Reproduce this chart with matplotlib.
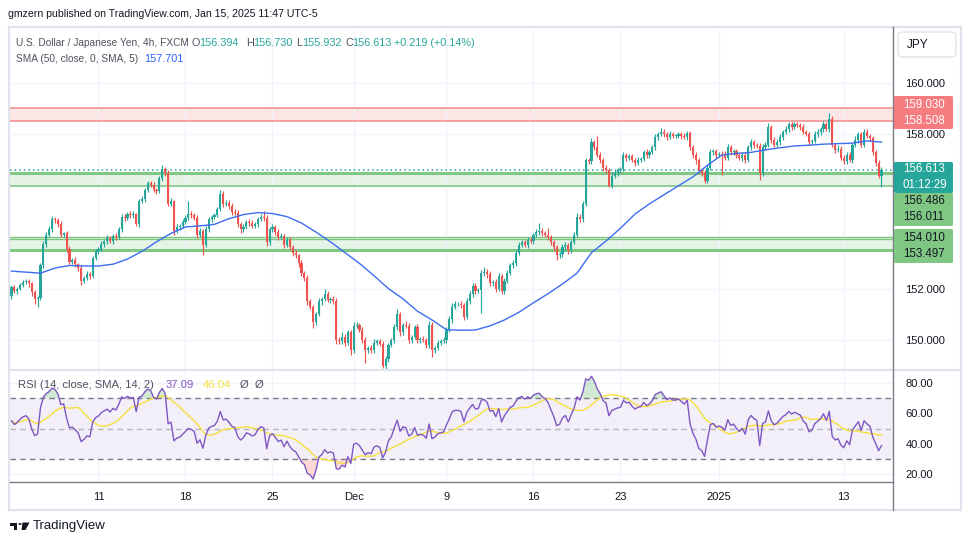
import matplotlib
matplotlib.use("Agg")
import matplotlib.pyplot as plt
from matplotlib.patches import FancyBboxPatch, Polygon, Circle
from matplotlib.lines import Line2D
import numpy as np
import pandas as pd

plt.rcParams['font.family'] = ['Liberation Sans', 'DejaVu Sans']

W, H = 970, 545

# USD/JPY 4h (FXCM), one value per bar
first_open = 151.70
closes = [
    152.05, 151.90, 152.00, 152.15, 152.25, 152.30, 152.20, 151.85, 151.60, 151.65,
    152.90, 153.75, 154.10, 154.30, 154.70, 154.65, 154.50, 154.10, 154.15, 153.55,
    153.05, 153.10, 152.95, 152.80, 152.30, 152.40, 152.55, 152.50, 153.20, 153.45,
    153.55, 153.75, 153.85, 153.95, 153.85, 154.05, 154.00, 154.30, 154.80, 154.75,
    154.90, 154.85, 154.90, 154.50, 155.40, 155.50, 155.85, 156.10, 156.05, 155.85,
    155.80, 156.30, 156.65, 156.50, 155.30, 155.40, 154.25, 154.40, 154.45, 154.60,
    154.75, 154.90, 154.85, 154.75, 154.10, 154.25, 153.70, 154.30, 154.70, 154.80,
    154.85, 155.10, 155.70, 155.30, 155.35, 155.20, 155.00, 154.95, 154.50, 154.30,
    154.40, 154.60, 154.55, 154.45, 154.50, 154.70, 154.80, 154.75, 153.80, 154.30,
    154.40, 154.20, 154.00, 154.05, 153.70, 153.90, 153.60, 153.40, 153.30, 153.00,
    152.60, 152.40, 151.50, 151.30, 150.70, 151.00, 151.50, 151.60, 151.80, 151.55,
    151.60, 151.50, 150.00, 149.95, 150.10, 149.90, 150.30, 149.60, 150.55, 150.60,
    150.40, 150.00, 149.60, 149.70, 149.60, 149.90, 149.95, 149.85, 149.00, 149.25,
    149.80, 150.00, 150.50, 151.00, 150.30, 150.60, 150.55, 150.00, 150.10, 150.50,
    150.00, 150.05, 150.00, 149.80, 150.60, 149.60, 149.70, 149.90, 149.95, 150.00,
    150.40, 150.80, 151.30, 151.40, 151.40, 151.35, 150.90, 151.50, 151.80, 152.10,
    151.90, 151.95, 152.60, 152.65, 152.55, 152.20, 152.25, 152.00, 152.50, 151.90,
    152.30, 152.60, 152.90, 153.00, 153.40, 153.70, 153.80, 153.70, 153.90, 153.85,
    154.10, 154.20, 154.25, 154.15, 154.10, 154.00, 153.80, 153.60, 153.30, 153.35,
    153.60, 153.70, 153.50, 153.80, 154.10, 154.80, 154.70, 155.30, 157.00, 156.95,
    157.70, 157.50, 157.20, 157.00, 156.70, 156.60, 156.00, 156.40, 156.50, 156.60,
    156.65, 157.20, 157.10, 157.15, 157.00, 156.90, 157.00, 157.05, 157.30, 157.20,
    157.30, 157.50, 157.90, 158.00, 158.10, 158.00, 157.90, 158.00, 157.95, 157.95,
    158.00, 157.95, 157.90, 158.05, 157.50, 157.20, 157.00, 156.60, 156.50, 156.20,
    156.70, 157.30, 157.35, 157.20, 157.25, 157.20, 157.10, 157.50, 157.30, 157.35,
    157.20, 157.10, 157.20, 157.00, 157.50, 157.70, 157.60, 157.55, 156.50, 157.50,
    157.60, 158.30, 157.80, 157.60, 157.70, 157.90, 158.10, 158.20, 158.40, 158.30,
    158.40, 158.35, 158.30, 158.10, 158.00, 157.70, 157.75, 158.00, 158.10, 158.20,
    158.40, 158.20, 158.60, 157.60, 157.40, 157.45, 157.10, 156.95, 157.20, 157.00,
    157.60, 157.80, 158.00, 157.60, 158.10, 157.95, 157.85, 157.30, 156.90, 156.394,
    156.613,
]
# wick length above / below the body, hundredths of a yen
wick_up = [
    8, 10, 6, 8, 10, 6, 8, 5, 8, 6,
    10, 12, 10, 15, 12, 10, 8, 12, 6, 8,
    10, 8, 12, 6, 10, 8, 15, 10, 8, 10,
    8, 10, 6, 12, 10, 8, 10, 8, 12, 10,
    8, 12, 10, 6, 10, 12, 8, 10, 8, 10,
    8, 10, 15, 8, 10, 12, 6, 10, 8, 10,
    12, 50, 10, 8, 10, 12, 8, 15, 10, 8,
    10, 8, 15, 10, 8, 10, 12, 8, 10, 8,
    10, 8, 12, 10, 8, 10, 12, 20, 10, 8,
    10, 8, 12, 10, 8, 12, 10, 8, 10, 6,
    10, 8, 12, 10, 8, 10, 12, 8, 20, 10,
    8, 10, 12, 10, 20, 12, 8, 10, 15, 10,
    8, 10, 12, 8, 10, 12, 10, 8, 10, 12,
    10, 8, 12, 20, 10, 8, 12, 10, 8, 10,
    12, 8, 10, 8, 15, 10, 8, 10, 8, 12,
    10, 12, 15, 10, 8, 12, 10, 15, 10, 12,
    10, 8, 12, 20, 10, 15, 8, 12, 10, 8,
    10, 12, 8, 10, 12, 10, 8, 10, 12, 10,
    8, 12, 30, 10, 8, 25, 10, 8, 10, 8,
    12, 10, 8, 10, 12, 15, 10, 12, 10, 8,
    15, 10, 44, 10, 8, 10, 8, 12, 10, 8,
    10, 12, 8, 10, 8, 10, 12, 8, 10, 12,
    10, 8, 12, 10, 15, 10, 8, 12, 10, 8,
    10, 8, 12, 10, 8, 10, 12, 8, 10, 12,
    10, 12, 8, 10, 8, 10, 15, 12, 10, 8,
    10, 8, 12, 10, 8, 12, 10, 8, 10, 12,
    10, 14, 8, 10, 12, 10, 8, 12, 10, 8,
    10, 8, 10, 12, 8, 10, 8, 12, 10, 8,
    12, 8, 23, 10, 8, 12, 10, 8, 12, 10,
    8, 12, 10, 8, 12, 10, 8, 10, 8, 10,
    12,
]
wick_dn = [
    10, 8, 12, 6, 10, 8, 12, 15, 20, 30,
    10, 8, 12, 10, 8, 10, 12, 8, 10, 12,
    10, 8, 12, 10, 15, 10, 8, 12, 10, 8,
    10, 8, 12, 10, 8, 10, 12, 8, 10, 12,
    8, 10, 12, 8, 10, 8, 12, 10, 8, 10,
    10, 8, 10, 12, 10, 8, 15, 10, 12, 8,
    10, 8, 12, 10, 15, 10, 40, 10, 8, 12,
    10, 8, 10, 12, 8, 10, 12, 8, 10, 15,
    10, 8, 12, 10, 8, 10, 8, 12, 15, 10,
    8, 12, 10, 8, 12, 10, 8, 12, 10, 15,
    12, 10, 15, 10, 25, 10, 8, 12, 10, 8,
    10, 8, 15, 12, 10, 15, 10, 20, 10, 8,
    10, 12, 50, 10, 12, 10, 8, 10, 10, 12,
    10, 8, 12, 10, 15, 10, 8, 12, 10, 8,
    10, 12, 8, 10, 12, 25, 10, 8, 10, 8,
    10, 8, 12, 10, 8, 10, 12, 8, 10, 12,
    10, 8, 90, 10, 12, 8, 10, 12, 8, 10,
    12, 10, 8, 10, 12, 10, 8, 10, 12, 8,
    10, 8, 12, 10, 8, 12, 10, 15, 20, 10,
    12, 10, 15, 10, 8, 10, 12, 10, 8, 12,
    10, 12, 8, 10, 12, 10, 5, 10, 8, 10,
    10, 8, 12, 10, 8, 12, 10, 8, 10, 12,
    10, 8, 12, 10, 8, 10, 12, 8, 10, 8,
    10, 12, 8, 10, 12, 10, 15, 12, 10, 10,
    10, 8, 12, 10, 8, 78, 10, 8, 12, 10,
    10, 8, 12, 10, 8, 10, 12, 8, 27, 10,
    10, 8, 12, 10, 8, 10, 12, 8, 10, 12,
    10, 8, 12, 10, 8, 12, 10, 8, 10, 12,
    10, 8, 12, 10, 12, 8, 10, 12, 10, 8,
    10, 8, 12, 10, 8, 10, 12, 10, 12, 10,
    46,
]

# SMA(50) line as drawn on the chart, sampled every 5 bars
sma_bars = list(range(0, 301, 5))
sma_vals = [
    152.68, 152.64, 152.60, 152.80, 152.90, 152.88, 152.88, 152.95, 153.15, 153.45,
    153.82, 154.15, 154.40, 154.44, 154.50, 154.72, 154.88, 154.96, 154.92, 154.80,
    154.55, 154.20, 153.82, 153.40, 152.98, 152.50, 152.00, 151.60, 151.12, 150.78,
    150.40, 150.38, 150.39, 150.55, 150.78, 151.08, 151.45, 151.80, 152.18, 152.60,
    153.40, 153.85, 154.35, 154.90, 155.30, 155.65, 156.00, 156.35, 156.80, 157.20,
    157.26, 157.30, 157.40, 157.48, 157.55, 157.58, 157.62, 157.64, 157.66, 157.75,
    157.70,
]

tick_bars = [30, 60, 90, 118, 150, 180, 210, 244, 287]
tick_labels = ["11", "18", "25", "Dec", "9", "16", "23", "2025", "13"]

price_ticks = [150, 152, 154, 156, 158, 160]
# 154 and 156 sit behind the zone tags on the reference
price_tick_labels = ['150.000', '152.000', '', '', '158.000', '160.000']

red_zone = (158.508, 159.030)
green_zone_hi = (156.011, 156.486)
green_zone_lo = (153.497, 154.010)
green_zone_lo_inner = 153.92
last_price = 156.613

UP, DOWN = '#26A69A', '#EF5350'
TXT = '#131722'
GREY = '#50535E'
GRID = '#F0F3FA'
BORDER = '#E0E3EB'


def fx(x):
    return x / W


def fy(y):
    return 1 - y / H


def bar_x(px):
    # bar i is centred at 11.5 + 2.9 * i pixels
    return (px - 11.5) / 2.9


def price_at(py):
    return 160 - (py - 83) / 25.7


def rsi_at(py):
    return 80 - (py - 383) * 60 / 91


fig = plt.figure(figsize=(W / 100, H / 100), dpi=100)
fig.patch.set_facecolor('white')

ax = fig.add_axes([fx(10), fy(369), fx(893) - fx(10), fy(30) - fy(369)])
ax2 = fig.add_axes([fx(10), fy(482), fx(893) - fx(10), fy(370) - fy(482)])

n = len(closes)
idx = np.arange(n)
c = np.array(closes)
o = np.concatenate([[first_open], c[:-1]])
hi = np.maximum(o, c) + np.array(wick_up) / 100
lo = np.minimum(o, c) - np.array(wick_dn) / 100
cols = [UP if cc >= oo else DOWN for oo, cc in zip(o, c)]

# zones
ax.axhspan(*red_zone, color='#FDE6E6', zorder=0, lw=0)
ax.axhline(red_zone[0], color='#F28A8A', lw=1.1, zorder=1)
ax.axhline(red_zone[1], color='#F28A8A', lw=1.1, zorder=1)
ax.axhspan(*green_zone_hi, color='#E6F4E7', zorder=0, lw=0)
ax.axhline(green_zone_hi[1], color='#81C784', lw=2.2, zorder=1)
ax.axhline(green_zone_hi[0], color='#81C784', lw=1.2, zorder=1)
ax.axhspan(*green_zone_lo, color='#E6F4E7', zorder=0, lw=0)
ax.axhline(green_zone_lo[1], color='#81C784', lw=1.0, zorder=1)
ax.axhline(green_zone_lo_inner, color='#81C784', lw=1.0, zorder=1)
ax.axhline(green_zone_lo[0], color='#81C784', lw=2.2, zorder=1)
ax.axhline(last_price, color=UP, lw=1.1, ls=(0, (1, 2)), zorder=1)

# candles
ax.vlines(idx, lo, hi, colors=cols, lw=0.85, zorder=3)
ax.bar(idx, np.maximum(np.abs(c - o), 0.015), bottom=np.minimum(o, c), width=0.74,
       color=cols, lw=0, zorder=4)

ax.plot(sma_bars, sma_vals, color='#3D6DF2', lw=1.0, zorder=5)

x_lo, x_hi = bar_x(10), bar_x(893)
ax.set_xlim(x_lo, x_hi)
ax.set_ylim(price_at(369), price_at(30))
ax.set_yticks(price_ticks)
ax.set_yticklabels(price_tick_labels)
ax.yaxis.tick_right()
ax.tick_params(axis='y', length=0, pad=9, labelsize=8, labelcolor=TXT)
ax.set_xticks(tick_bars)
ax.tick_params(axis='x', length=0, labelbottom=False)
ax.grid(True, color=GRID, lw=1, zorder=-1)
ax.set_axisbelow(True)
for s in ax.spines.values():
    s.set_visible(False)

# RSI (14) with SMA 14 of RSI
diff = np.diff(c, prepend=first_open)
gain = np.clip(diff, 0, None)
loss = np.clip(-diff, 0, None)
ag, al = 0.12, 0.12
rsi = []
for g, l in zip(gain, loss):
    ag = (ag * 13 + g) / 14
    al = (al * 13 + l) / 14
    rsi.append(100 - 100 / (1 + ag / al))
rsi = np.array(rsi)
rsi_ma = pd.Series(rsi).rolling(14, min_periods=1).mean().values

ax2.axhspan(30, 70, color='#7E57C2', alpha=0.09, lw=0, zorder=0)
ax2.fill_between(idx, 70, rsi, where=rsi > 70, interpolate=True, color='#4CAF50', alpha=0.25, lw=0)
ax2.fill_between(idx, 30, rsi, where=rsi < 30, interpolate=True, color='#F44336', alpha=0.2, lw=0)
for lv, al_ in [(70, 1.0), (50, 0.5), (30, 1.0)]:
    ax2.axhline(lv, color='#787B86', lw=1, ls=(0, (4, 3)), alpha=al_, zorder=1)
ax2.plot(idx, rsi_ma, color='#F7E03C', lw=1, zorder=3)
ax2.plot(idx, rsi, color='#7E57C2', lw=1, zorder=4)
ax2.set_xlim(x_lo, x_hi)
ax2.set_ylim(rsi_at(482), rsi_at(370))
ax2.set_yticks([20, 40, 60, 80])
ax2.set_yticklabels(['20.00', '40.00', '60.00', '80.00'])
ax2.yaxis.tick_right()
ax2.tick_params(axis='y', length=0, pad=9, labelsize=8, labelcolor=TXT)
ax2.set_xticks(tick_bars)
ax2.set_xticklabels(tick_labels)
ax2.tick_params(axis='x', length=0, pad=7, labelsize=8, labelcolor=TXT)
ax2.grid(True, color=GRID, lw=1, zorder=-1)
ax2.set_axisbelow(True)
for s in ax2.spines.values():
    s.set_visible(False)


def fig_line(x0, y0, x1, y1, color, lw):
    fig.add_artist(Line2D([fx(x0), fx(x1)], [fy(y0), fy(y1)], color=color, lw=lw,
                          transform=fig.transFigure, zorder=6))


def fig_rect(x0, y0, x1, y1, color):
    fig.add_artist(FancyBboxPatch((fx(x0), fy(y1)), fx(x1) - fx(x0), fy(y0) - fy(y1),
                                  boxstyle='round,pad=0,rounding_size=0.002',
                                  transform=fig.transFigure, fc=color, ec='none', zorder=7))


# frame and separators
fig_line(9, 27, 961, 27, BORDER, 1.6)
fig_line(9, 510, 961, 510, BORDER, 1.6)
fig_line(9, 27, 9, 510, BORDER, 1.6)
fig_line(961, 27, 961, 510, BORDER, 1.6)
fig_line(10, 369.5, 961, 369.5, BORDER, 1.6)
fig_line(10, 482, 893, 482, '#787B86', 1.0)
fig_line(893.5, 27, 893.5, 510, '#787B86', 1.0)

# JPY box
fig.add_artist(FancyBboxPatch((fx(898), fy(57)), fx(956) - fx(898), fy(32) - fy(57),
                              boxstyle='round,pad=0,rounding_size=0.006',
                              transform=fig.transFigure, fc='white', ec=BORDER, lw=1, zorder=7))
fig.text(fx(907), fy(45), 'JPY', fontsize=8.5, color=TXT, va='center', ha='left', zorder=8)

# price tags
tags = [
    (96, 129, '#F77C80', 'white', ['159.030', '158.508']),
    (162, 193, UP, 'white', ['156.613', '01:12:29']),
    (193, 226, '#81C784', TXT, ['156.486', '156.011']),
    (229, 263, '#81C784', TXT, ['154.010', '153.497']),
]
for y0, y1, fc, tc, labels in tags:
    fig_rect(894, y0, 953, y1, fc)
    mid = (y0 + y1) / 2
    fig.text(fx(903), fy(mid - 8), labels[0], fontsize=8.3, color=tc, va='center', ha='left', zorder=8)
    fig.text(fx(903), fy(mid + 8), labels[1], fontsize=8.3, color=tc, va='center', ha='left', zorder=8)

# header and legends
fig.text(fx(8), fy(14), 'gmzern published on TradingView.com, Jan 15, 2025 11:47 UTC-5',
         fontsize=7.6, color=TXT, va='center', ha='left')
fig.text(fx(16), fy(42.5), 'U.S. Dollar / Japanese Yen, 4h, FXCM', fontsize=7.3, color=GREY,
         va='center', ha='left')
legend1 = [
    (192, 'O', GREY), (199, '156.394', UP),
    (246, 'H', GREY), (253, '156.730', UP),
    (296, 'L', GREY), (302, '155.932', UP),
    (345, 'C', GREY), (352, '156.613', UP),
    (394, '+0.219 (+0.14%)', UP),
]
for x, s, col in legend1:
    fig.text(fx(x), fy(42.5), s, fontsize=7.8, color=col, va='center', ha='left')
fig.text(fx(16), fy(59), 'SMA (50, close, 0, SMA, 5)', fontsize=7.3, color=GREY, va='center', ha='left')
fig.text(fx(144), fy(59), '157.701', fontsize=7.8, color='#2962FF', va='center', ha='left')

legend2 = [
    (18, 'RSI (14, close, SMA, 14, 2)', GREY),
    (166, '37.09', '#7E57C2'),
    (203, '46.04', '#F7E03C'),
    (240, '\u00d8', GREY),
    (255, '\u00d8', GREY),
]
for x, s, col in legend2:
    fig.text(fx(x), fy(385), s, fontsize=8.1, color=col, va='center', ha='left')

# TradingView logo
fig.add_artist(Polygon([(fx(10), fy(522.5)), (fx(17.5), fy(522.5)), (fx(17.5), fy(530)),
                        (fx(14), fy(530)), (fx(14), fy(525.5)), (fx(10), fy(525.5))],
                       closed=True, transform=fig.transFigure, fc=TXT, ec='none'))
fig.add_artist(Circle((fx(20), fy(524)), 1.6 / W, transform=fig.transFigure, fc=TXT, ec='none'))
fig.add_artist(Polygon([(fx(22.5), fy(522.5)), (fx(29.5), fy(522.5)), (fx(25.5), fy(530)),
                        (fx(21.5), fy(530))],
                       closed=True, transform=fig.transFigure, fc=TXT, ec='none'))
fig.text(fx(33), fy(526.5), 'TradingView', fontsize=9.5, color=TXT, va='center', ha='left')

fig.savefig('out.png', dpi=100)
